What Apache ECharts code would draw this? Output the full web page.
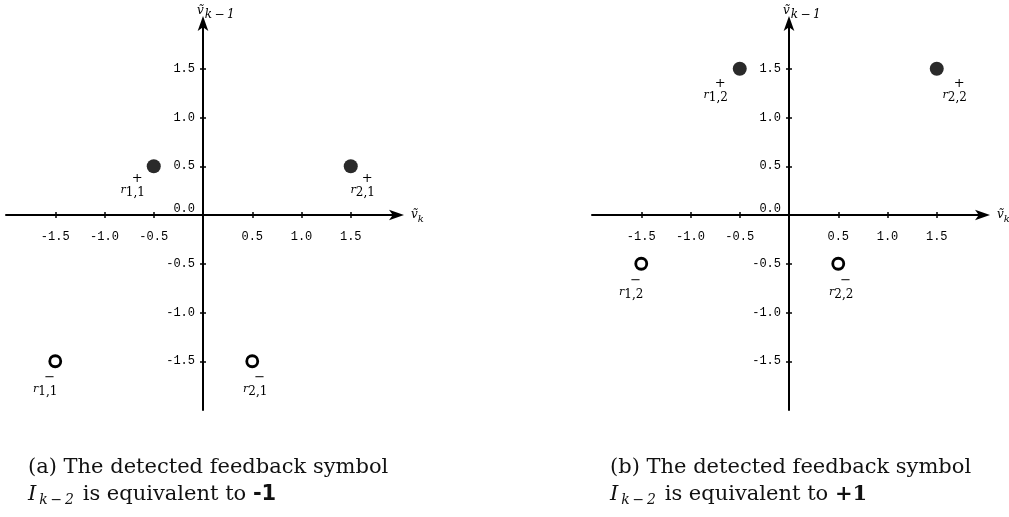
<!DOCTYPE html>
<html>
<head>
<meta charset="utf-8">
<script src="https://cdn.jsdelivr.net/npm/echarts@6/dist/echarts.min.js"></script>
<style>
html,body{margin:0;padding:0;background:#fff;}
#c{width:1009px;height:517px;}
</style>
</head>
<body>
<div id="c"></div>
<script>
// ---- data ----
const xTickValues = [-1.5, -1.0, -0.5, 0.5, 1.0, 1.5];
const yTickValues = [-1.5, -1.0, -0.5, 0.0, 0.5, 1.0, 1.5];
const axisMin = -2, axisMax = 2, axisStep = 0.5;

// panel (a): I_{k-2} = -1
const aPositive = [[-0.5, 0.5], [1.5, 0.5]];
const aPositiveNames = ['1,1', '2,1'];
const aNegative = [[-1.5, -1.5], [0.5, -1.5]];
const aNegativeNames = ['1,1', '2,1'];
// panel (b): I_{k-2} = +1
const bPositive = [[-0.5, 1.5], [1.5, 1.5]];
const bPositiveNames = ['1,2', '2,2'];
const bNegative = [[-1.5, -0.5], [0.5, -0.5]];
const bNegativeNames = ['1,2', '2,2'];

const captionA1 = '(a) The detected feedback symbol';
const captionA2 = ['I', 'k\u2009−\u20092', ' is equivalent to ', '-1'];
const captionB1 = '(b) The detected feedback symbol';
const captionB2 = ['I', 'k\u2009−\u20092', ' is equivalent to ', '+1'];

// ---- styles ----
const tickFont = 'Liberation Mono';
const serif = '"DejaVu Serif", serif';
const GRID_W = 394, GRID_H = 390;
// label offsets (style only) per panel/point
const offsA_pos = [[-21, -4], [12, -4]];
const offsA_neg = [[-10, 0], [3, 0]];
const offsB_pos = [[-24, -2], [18, -2]];
const offsB_neg = [[-10, 0], [3, 0]];

const pointRich = {
  sup: {fontFamily: serif, fontSize: 13, color: '#000', padding: [0, 0, 0, 9], lineHeight: 9},
  r: {fontFamily: serif, fontStyle: 'italic', fontSize: 11, color: '#000', lineHeight: 14},
  sub: {fontFamily: serif, fontSize: 12, color: '#000', lineHeight: 14, padding: [6, 0, 0, 0]}
};

function makeData(points, names, offs) {
  return points.map((p, i) => ({value: p, name: names[i], label: {offset: offs[i]}}));
}

function axisPair(grid) {
  const tickStyle = {color: '#000', width: 1.5};
  const xMain = {
    type: 'value', gridIndex: grid, min: axisMin, max: axisMax, interval: axisStep,
    position: 'bottom', offset: -GRID_H / 2,
    axisLine: {show: true, onZero: false, symbol: ['none', 'arrow'], symbolSize: [8, 15], symbolOffset: [0, 4],
      lineStyle: {color: '#000', width: 2}},
    axisTick: {show: true, customValues: xTickValues, length: 3, inside: false, lineStyle: tickStyle},
    axisLabel: {show: true, customValues: xTickValues, formatter: v => v.toFixed(1),
      fontFamily: tickFont, fontSize: 12, color: '#000', margin: 16},
    splitLine: {show: false},
    name: '{v|ṽ}{s|k}', nameLocation: 'end', nameGap: 11,
    nameTextStyle: {rich: {
      v: {fontFamily: serif, fontStyle: 'italic', fontSize: 12, color: '#000'},
      s: {fontFamily: serif, fontStyle: 'italic', fontSize: 10, color: '#000', padding: [9, 0, 0, 0]}
    }}
  };
  const xTwin = {
    type: 'value', gridIndex: grid, min: axisMin, max: axisMax, interval: axisStep,
    position: 'top', offset: -GRID_H / 2,
    axisLine: {show: false, onZero: false},
    axisTick: {show: true, customValues: xTickValues, length: 3, inside: false, lineStyle: tickStyle},
    axisLabel: {show: false},
    splitLine: {show: false}
  };
  const yMain = {
    type: 'value', gridIndex: grid, min: axisMin, max: axisMax, interval: axisStep,
    position: 'left', offset: -GRID_W / 2,
    axisLine: {show: true, onZero: false, symbol: ['none', 'arrow'], symbolSize: [8, 15], symbolOffset: [0, 4],
      lineStyle: {color: '#000', width: 2}},
    axisTick: {show: true, customValues: yTickValues.filter(v => v !== 0), length: 3, inside: false,
      lineStyle: tickStyle},
    axisLabel: {show: true, customValues: yTickValues,
      formatter: v => v === 0 ? '{z|0.0}' : v.toFixed(1),
      rich: {z: {fontFamily: tickFont, fontSize: 12, color: '#000', padding: [0, 0, 12, 0]}},
      fontFamily: tickFont, fontSize: 12, color: '#000', margin: 8},
    splitLine: {show: false},
    name: '{v|ṽ}{s|k\u2009−\u20091}', nameLocation: 'end', nameGap: 1,
    nameTextStyle: {align: 'left', padding: [0, 0, 0, -6], rich: {
      v: {fontFamily: serif, fontStyle: 'italic', fontSize: 12, color: '#000', lineHeight: 16},
      s: {fontFamily: serif, fontStyle: 'italic', fontSize: 12, color: '#000', lineHeight: 16, padding: [7, 0, 0, 1]}
    }}
  };
  const yTwin = {
    type: 'value', gridIndex: grid, min: axisMin, max: axisMax, interval: axisStep,
    position: 'right', offset: -GRID_W / 2,
    axisLine: {show: false, onZero: false},
    axisTick: {show: true, customValues: yTickValues.filter(v => v !== 0), length: 3, inside: false,
      lineStyle: tickStyle},
    axisLabel: {show: false},
    splitLine: {show: false}
  };
  return {x: [xMain, xTwin], y: [yMain, yTwin]};
}

const pa = axisPair(0), pb = axisPair(1);

function posSeries(xi, yi, data) {
  return {
    type: 'scatter', xAxisIndex: xi, yAxisIndex: yi, data: data,
    symbol: 'circle', symbolSize: 14,
    itemStyle: {color: '#2a2a2a', opacity: 1},
    label: {show: true, position: 'bottom', distance: 5, align: 'center',
      formatter: p => '{sup|+}\n{r|r}{sub|' + p.name + '}', rich: pointRich},
    z: 5, silent: true
  };
}
function negSeries(xi, yi, data) {
  return {
    type: 'scatter', xAxisIndex: xi, yAxisIndex: yi, data: data,
    symbol: 'circle', symbolSize: 11,
    itemStyle: {color: '#fff', borderColor: '#000', borderWidth: 2.8, opacity: 1},
    label: {show: true, position: 'bottom', distance: 5, align: 'center',
      formatter: p => '{sup|−}\n{r|r}{sub|' + p.name + '}', rich: pointRich},
    z: 5, silent: true
  };
}

function captionGraphics(left, line1, line2, boldFamily) {
  return [
    {type: 'text', left: left, top: 457, style: {text: line1, font: '21px ' + serif, fill: '#111'}},
    {type: 'text', left: left, top: 483, style: {
      text: '{i|' + line2[0] + '}{s|' + line2[1] + '}{n|' + line2[2] + '}{b|' + line2[3] + '}',
      rich: {
        i: {fontFamily: serif, fontStyle: 'italic', fontSize: 21, fill: '#111', lineHeight: 26},
        s: {fontFamily: serif, fontStyle: 'italic', fontSize: 14, fill: '#111', padding: [10, 2, 0, 3], lineHeight: 26},
        n: {fontFamily: serif, fontSize: 21, fill: '#111', lineHeight: 26},
        b: {fontFamily: boldFamily, fontWeight: 'bold', fontSize: 21, fill: '#111', lineHeight: 26}
      }
    }}
  ];
}

const chart = echarts.init(document.getElementById('c'), null, {renderer: 'canvas'});
chart.setOption({
  backgroundColor: '#fff',
  animation: false,
  grid: [
    {left: 6, top: 20, width: GRID_W, height: GRID_H, outerBoundsMode: 'none', containLabel: false},
    {left: 592, top: 20, width: GRID_W, height: GRID_H, outerBoundsMode: 'none', containLabel: false}
  ],
  xAxis: [pa.x[0], pa.x[1], pb.x[0], pb.x[1]],
  yAxis: [pa.y[0], pa.y[1], pb.y[0], pb.y[1]],
  series: [
    posSeries(0, 0, makeData(aPositive, aPositiveNames, offsA_pos)),
    negSeries(0, 0, makeData(aNegative, aNegativeNames, offsA_neg)),
    posSeries(2, 2, makeData(bPositive, bPositiveNames, offsB_pos)),
    negSeries(2, 2, makeData(bNegative, bNegativeNames, offsB_neg))
  ],
  graphic: captionGraphics(28, captionA1, captionA2, '"DejaVu Sans"')
    .concat(captionGraphics(610, captionB1, captionB2, serif))
});
</script>
</body>
</html>
